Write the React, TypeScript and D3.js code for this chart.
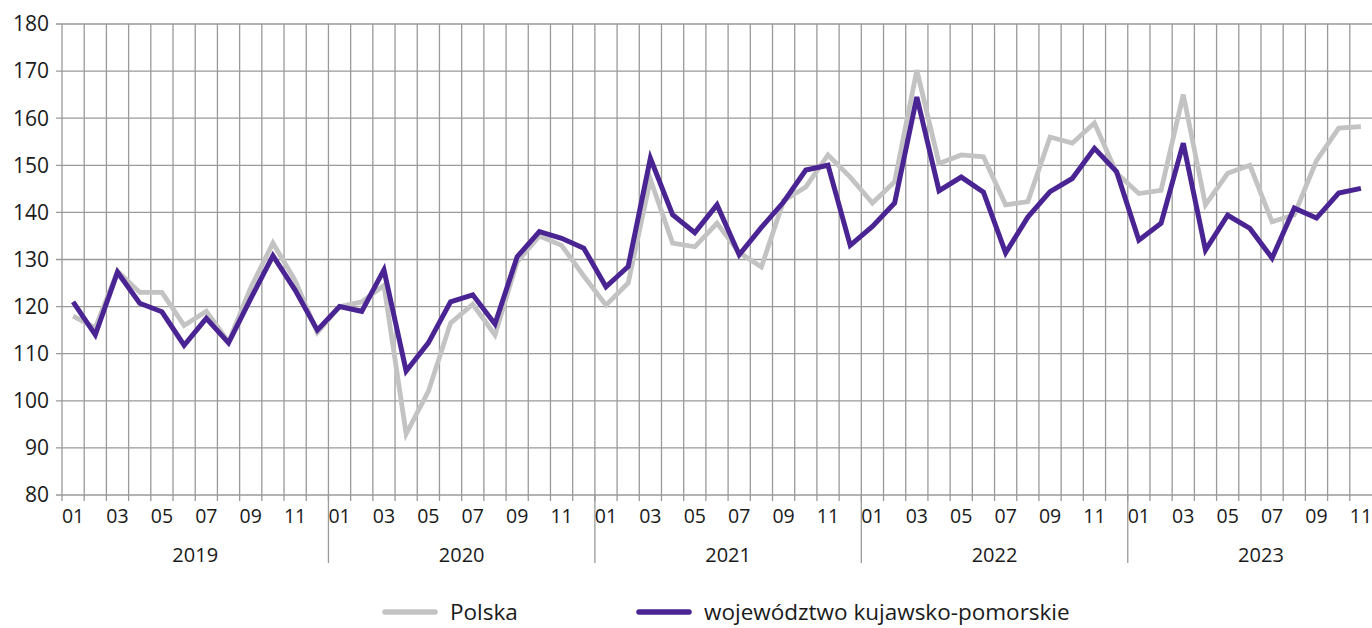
import { useEffect, useRef } from 'react';
import * as d3 from 'd3';

// months 2019-01 .. 2023-11
const YEARS = ['2019', '2020', '2021', '2022', '2023'];
const MONTHS = ['01', '02', '03', '04', '05', '06', '07', '08', '09', '10', '11', '12'];

const POLSKA = [
    118, 115.5, 127.5, 123, 123, 116, 119, 112.5, 124, 133.5, 125.5, 114.5,
    120, 121, 124.5, 93, 102, 116.5, 120.5, 114, 129.5, 135, 133, 126.5,
    120.3, 125, 147, 133.5, 132.7, 137.7, 131.5, 128.4, 142.5, 145.4, 152.2, 147.5,
    142, 146.5, 170.2, 150.4, 152.2, 151.8, 141.6, 142.3, 156, 154.7, 159, 148.3,
    144, 144.7, 165, 141.6, 148.3, 150, 138, 139.5, 151, 157.9, 158.2,
];

const KUJAWSKO = [
    121, 114, 127.3, 120.7, 118.9, 111.8, 117.5, 112.3, 121.7, 130.8, 123.5, 115,
    120, 119, 127.8, 106.3, 112.3, 121, 122.5, 116.3, 130.6, 135.9, 134.5, 132.4,
    124.2, 128.5, 151.5, 139.5, 135.7, 141.6, 131, 136.8, 142.2, 149, 150, 133,
    137, 142, 164.5, 144.6, 147.5, 144.3, 131.4, 139, 144.4, 147.2, 153.6, 148.6,
    134.1, 137.7, 154.7, 132, 139.4, 136.6, 130.3, 140.9, 138.8, 144.1, 145.1,
];

const Y_TICKS = [80, 90, 100, 110, 120, 130, 140, 150, 160, 170, 180];

const SERIES = [
    { name: 'Polska', values: POLSKA, color: '#c3c3c3' },
    { name: 'województwo kujawsko-pomorskie', values: KUJAWSKO, color: '#4b2493' },
];

const FONT = '"Open Sans", "Noto Sans", sans-serif';

export default function App() {
    const svgRef = useRef<SVGSVGElement | null>(null);

    useEffect(() => {
        if (!svgRef.current) return;
        const svg = d3.select(svgRef.current);
        svg.selectAll('*').remove();

        const width = 1372;
        const height = 628;
        const left = 62;
        const right = 1372;
        const top = 24;
        const bottom = 495;

        const keys: { year: string; month: string }[] = [];
        YEARS.forEach((y) => MONTHS.forEach((m) => keys.push({ year: y, month: m })));
        const periods = keys.slice(0, POLSKA.length);
        const ids = periods.map((p) => `${p.year}-${p.month}`);

        const x = d3.scaleBand<string>().domain(ids).range([left, right]).padding(0);
        const y = d3.scaleLinear().domain([80, 180]).range([bottom, top]);
        const bw = x.bandwidth();

        svg.attr('width', width).attr('height', height);
        const g = svg.append('g');

        // siatka pozioma
        g.selectAll('.hgrid')
            .data(Y_TICKS)
            .enter()
            .append('line')
            .attr('x1', left - 6)
            .attr('x2', right)
            .attr('y1', (d) => y(d))
            .attr('y2', (d) => y(d))
            .attr('stroke', '#9a9a9a')
            .attr('stroke-width', 1.3);

        // siatka pionowa na granicach miesięcy
        const edges = ids.map((id) => x(id) as number);
        g.selectAll('.vgrid')
            .data(edges)
            .enter()
            .append('line')
            .attr('x1', (d) => d)
            .attr('x2', (d) => d)
            .attr('y1', top)
            .attr('y2', bottom + 6)
            .attr('stroke', '#9a9a9a')
            .attr('stroke-width', 1.3);

        // separatory lat
        const yearStarts = ids.filter((id) => id.endsWith('-01') && !id.startsWith('2019'));
        g.selectAll('.ysep')
            .data(yearStarts)
            .enter()
            .append('line')
            .attr('x1', (d) => x(d) as number)
            .attr('x2', (d) => x(d) as number)
            .attr('y1', bottom)
            .attr('y2', bottom + 68)
            .attr('stroke', '#9a9a9a')
            .attr('stroke-width', 1.3);

        g.selectAll('.ylab')
            .data(Y_TICKS)
            .enter()
            .append('text')
            .attr('x', 49)
            .attr('y', (d) => y(d))
            .attr('dy', '0.35em')
            .attr('text-anchor', 'end')
            .attr('font-family', FONT)
            .attr('font-size', 21)
            .attr('fill', '#1a1a1a')
            .text((d) => d);

        g.selectAll('.mlab')
            .data(periods.filter((p) => parseInt(p.month, 10) % 2 === 1))
            .enter()
            .append('text')
            .attr('x', (d) => (x(`${d.year}-${d.month}`) as number) + bw / 2)
            .attr('y', bottom + 28)
            .attr('text-anchor', 'middle')
            .attr('font-family', FONT)
            .attr('font-size', 19.5)
            .attr('fill', '#1a1a1a')
            .text((d) => d.month);

        g.selectAll('.yrlab')
            .data(YEARS)
            .enter()
            .append('text')
            .attr('x', (yr) => (x(`${yr}-01`) as number) + (12 * bw) / 2)
            .attr('y', bottom + 67)
            .attr('text-anchor', 'middle')
            .attr('font-family', FONT)
            .attr('font-size', 20)
            .attr('fill', '#1a1a1a')
            .text((d) => d);

        const line = d3
            .line<number>()
            .x((_, i) => (x(ids[i]) as number) + bw / 2)
            .y((d) => y(d));

        SERIES.forEach((s) => {
            g.append('path')
                .datum(s.values)
                .attr('fill', 'none')
                .attr('stroke', s.color)
                .attr('stroke-width', s.name === 'Polska' ? 4.8 : 5)
                .attr('stroke-linejoin', 'miter')
                .attr('d', line);
        });

        // legenda
        const legendX = [383, 637];
        SERIES.forEach((s, i) => {
            g.append('line')
                .attr('x1', legendX[i] + 2)
                .attr('x2', legendX[i] + 52)
                .attr('y1', 612)
                .attr('y2', 612)
                .attr('stroke', s.color)
                .attr('stroke-width', 5.5)
                .attr('stroke-linecap', 'round');
            g.append('text')
                .attr('x', legendX[i] + 67)
                .attr('y', 620)
                .attr('font-family', FONT)
                .attr('font-size', 22.5)
                .attr('fill', '#1a1a1a')
                .text(s.name);
        });
    }, []);

    return (
        <div style={{ position: 'absolute', left: 0, top: 0 }}>
            <svg ref={svgRef} style={{ display: 'block' }}></svg>
        </div>
    );
}
